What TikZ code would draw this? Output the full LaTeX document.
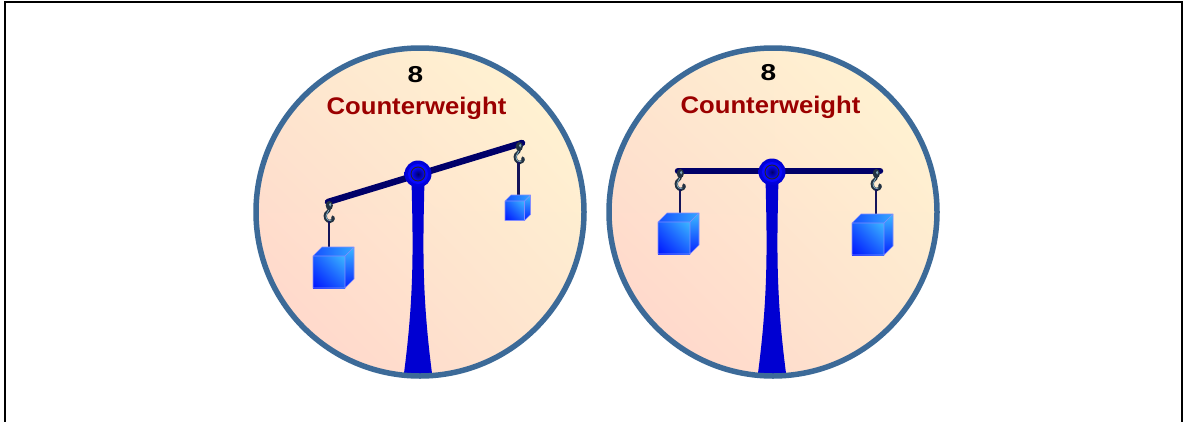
\documentclass[tikz,border=0pt]{standalone}
\usepackage{fontspec}
\setmainfont{Liberation Sans}
\usetikzlibrary{shadings}
\definecolor{rim}{RGB}{60,106,152}
\definecolor{bgpink}{RGB}{255,212,202}
\definecolor{bgyellow}{RGB}{255,246,210}
\definecolor{bgmid}{RGB}{254,230,207}
\definecolor{beamnavy}{RGB}{0,0,105}
\definecolor{postblue}{RGB}{8,8,255}
\definecolor{postedge}{RGB}{0,0,210}
\definecolor{postdark}{RGB}{0,0,170}
\definecolor{titlered}{RGB}{155,0,0}
\definecolor{cubedeep}{RGB}{0,20,255}
\definecolor{cubelight}{RGB}{60,185,255}
\definecolor{cubemid}{RGB}{25,95,255}
\definecolor{cubeedge}{RGB}{130,140,255}
\definecolor{hookdark}{RGB}{35,50,66}
\definecolor{hooklight}{RGB}{125,165,185}
\definecolor{stringnavy}{RGB}{20,20,90}

% dial background: diagonal pink-to-cream wash
\newcommand\dialface[2]{%
  \shade[lower left=bgpink, upper right=bgyellow, upper left=bgmid, lower right=bgmid]
    (#1,#2) circle[radius=164];}
% dial rim
\newcommand\dialrim[2]{\draw[rim, line width=5.5] (#1,#2) circle[radius=164];}
% tapered stand, clipped to the dial
\newcommand\stand[4]{% centre x, top y, dial x, dial y
  \begin{scope}
    \clip (#3,#4) circle[radius=163];
    \shade[left color=postedge, middle color=postblue, right color=postedge]
      ({#1-6.5},#2) .. controls ({#1-4.8},250) and ({#1-3.6},300) .. ({#1-16},388)
      -- ({#1+16},388) .. controls ({#1+3.6},300) and ({#1+4.8},250) .. ({#1+6.5},#2) -- cycle;
  \end{scope}}
% pivot boss
\newcommand\pivot[2]{%
  \shade[inner color=postblue, outer color=postedge] (#1,#2) circle[radius=13.5];
  \fill[postblue] (#1,#2) circle[radius=10];
  \shade[inner color=postdark!60!black, outer color=postblue] (#1,#2) circle[radius=6.8];
  \draw[black!85, line width=0.9] (#1,#2) circle[radius=7];}
% hook hanging from a beam end
\newcommand\hookat[2]{%
  \begin{scope}[shift={(#1,#2)}]
    \fill[hookdark] (0.3,3.5) ellipse[x radius=3.6, y radius=4.6];
    \fill[hooklight] (1.2,2.6) ellipse[x radius=1.2, y radius=1.9];
    \draw[hookdark, line width=3.2, line cap=round]
      (0.3,7) .. controls (0.3,10) and (-3.8,10) .. (-3.8,13.8)
      .. controls (-3.8,18.8) and (0.5,20.8) .. (3.2,18.4)
      .. controls (4.3,17.4) and (4.4,16) .. (3.8,15);
    \draw[hooklight, line width=0.9, line cap=round]
      (-0.4,8.4) .. controls (-0.4,10.6) and (-3,10.9) .. (-3,13.8)
      .. controls (-3,17.6) and (0.1,19.4) .. (2.3,18);
  \end{scope}}
% cube: front x, front y, side, depth
\newcommand\cube[4]{%
  \shade[lower left=cubedeep, upper right=cubelight, upper left=cubemid, lower right=cubemid]
    (#1,#2) rectangle ++(#3,#3);
  \shade[left color=cubemid!80!cubedeep, right color=cubelight!80!cubemid]
    (#1,#2) -- ++(#4,-#4) -- ++(#3,0) -- ++(-#4,#4) -- cycle;
  \shade[top color=cubelight, bottom color=cubedeep!80!cubemid]
    ({#1+#3},#2) -- ++(#4,-#4) -- ++(0,#3) -- ++(-#4,#4) -- cycle;
  \draw[cubeedge, line width=0.6, line join=round]
    (#1,#2) -- ++(#4,-#4) -- ++(#3,0) -- ++(0,#3) -- ++(-#4,#4) -- ++(-#3,0) -- cycle
    (#1,#2) -- ++(#3,0) -- ++(0,#3) ({#1+#3},#2) -- ++(#4,-#4);}

\tikzset{
  beam/.style={beamnavy, line width=6.5, line cap=round},
  cord/.style={stringnavy, line width=2.6},
  titletext/.style={titlered, font=\fontsize{24}{28}\selectfont\bfseries, xscale=1.07,
    anchor=base, inner sep=0},
  counttext/.style={black, font=\fontsize{23}{26}\selectfont\bfseries, xscale=1.22,
    anchor=base, inner sep=0},
}

\begin{document}
\begin{tikzpicture}[x=1pt, y=-1pt]
\useasboundingbox (0,0) rectangle (1183,421);
\fill[white] (0,0) rectangle (1183,421);
\draw[black, line width=2.5] (5,440) -- (5,2) -- (1182,2) -- (1182,440);

% ---------- left dial: tilted scale ----------
\dialface{420}{212}
\stand{418}{180}{420}{212}
\coordinate (aL) at (328,202);
\coordinate (aR) at (522,143);
\coordinate (aP) at (418,174);
\draw[beam] (aL) -- (aR);
\pivot{418}{174}
\hookat{329}{202}
\hookat{519}{143}
\coordinate (aLs) at (329,221);
\coordinate (aLb) at (329,252);
\coordinate (aRs) at (518.5,162);
\coordinate (aRb) at (518.5,198);
\draw[cord] (aLs) -- (aLb);
\draw[cord] (aRs) -- (aRb);
\cube{313}{256}{32}{9}
\cube{505}{201}{19.5}{6}
\dialrim{420}{212}
\node[counttext] (aNum) at (415.5,82) {8};
\node[titletext] (aTitle) at (416.5,114) {Counterweight};

% ---------- right dial: level scale ----------
\dialface{773}{212}
\stand{772}{178}{773}{212}
\coordinate (bL) at (678,171);
\coordinate (bR) at (880,171);
\coordinate (bP) at (772,172);
\draw[beam] (bL) -- (bR);
\pivot{772}{172}
\hookat{680}{170}
\hookat{876}{170}
\coordinate (bLs) at (680,189);
\coordinate (bLb) at (680,218);
\coordinate (bRs) at (876,189);
\coordinate (bRb) at (876,219);
\draw[cord] (bLs) -- (bLb);
\draw[cord] (bRs) -- (bRb);
\cube{658}{222}{32}{9}
\cube{852}{223}{32}{9}
\dialrim{773}{212}
\node[counttext] (bNum) at (768.5,80) {8};
\node[titletext] (bTitle) at (770.5,113) {Counterweight};
\end{tikzpicture}
\end{document}
